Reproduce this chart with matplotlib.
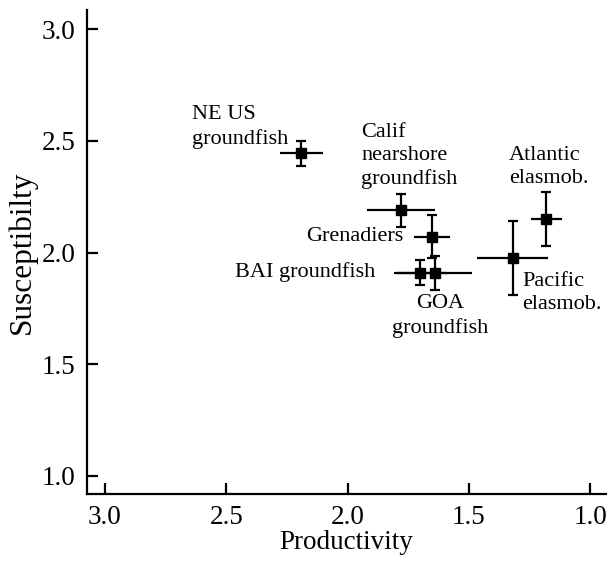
import matplotlib.pyplot as plt
import numpy as np

plt.rcParams['font.family'] = ['Liberation Serif', 'DejaVu Serif']

# Stock groups: productivity (x) and susceptibility (y) with error half-widths
groups = ['NE US\ngroundfish', 'Calif\nnearshore\ngroundfish', 'Grenadiers',
          'BAI groundfish', 'GOA\ngroundfish', 'Pacific\nelasmob.', 'Atlantic\nelasmob.']
productivity = np.array([2.19, 1.78, 1.65, 1.70, 1.64, 1.32, 1.18])
susceptibility = np.array([2.445, 2.19, 2.07, 1.91, 1.91, 1.975, 2.15])
prod_err = np.array([0.087, 0.14, 0.074, 0.11, 0.155, 0.146, 0.064])
susc_err = np.array([0.056, 0.074, 0.096, 0.056, 0.076, 0.166, 0.119])

# label placement: (x, y, ha)
label_pos = [(2.641, 2.562, 'left'),
             (1.944, 2.432, 'left'),
             (1.771, 2.07, 'right'),
             (1.887, 1.913, 'right'),
             (1.62, 1.716, 'center'),
             (1.28, 1.819, 'left'),
             (1.334, 2.383, 'left')]

fig = plt.figure(figsize=(6.08, 5.63), dpi=100)
ax = fig.add_axes([0.143, 0.1226, 0.854, 0.8594])

ax.errorbar(productivity, susceptibility, yerr=susc_err, fmt='none',
            ecolor='black', elinewidth=1.6, capsize=3.8, capthick=1.6)
ax.errorbar(productivity, susceptibility, xerr=prod_err, fmt='none',
            ecolor='black', elinewidth=1.6, capsize=0)
ax.plot(productivity, susceptibility, 's', color='black', markersize=7.5)

for name, (lx, ly, ha) in zip(groups, label_pos):
    ax.text(lx, ly, name, ha=ha, va='center', fontsize=16, linespacing=1.3)

ax.set_xlim(3.074, 0.934)
ax.set_ylim(0.919, 3.085)
ax.set_xticks([3.0, 2.5, 2.0, 1.5, 1.0])
ax.set_yticks([1.0, 1.5, 2.0, 2.5, 3.0])
ax.xaxis.set_major_formatter(plt.FormatStrFormatter('%.1f'))
ax.yaxis.set_major_formatter(plt.FormatStrFormatter('%.1f'))

for s in ['top', 'right']:
    ax.spines[s].set_visible(False)
for s in ['left', 'bottom']:
    ax.spines[s].set_linewidth(1.6)
ax.tick_params(direction='in', length=8, width=1.6, labelsize=19.5, pad=8)

ax.set_xlabel('Productivity', fontsize=19.5, labelpad=0)
ax.set_ylabel('Susceptibilty', fontsize=22.5, labelpad=4)

fig.savefig('out.png', dpi=100)
